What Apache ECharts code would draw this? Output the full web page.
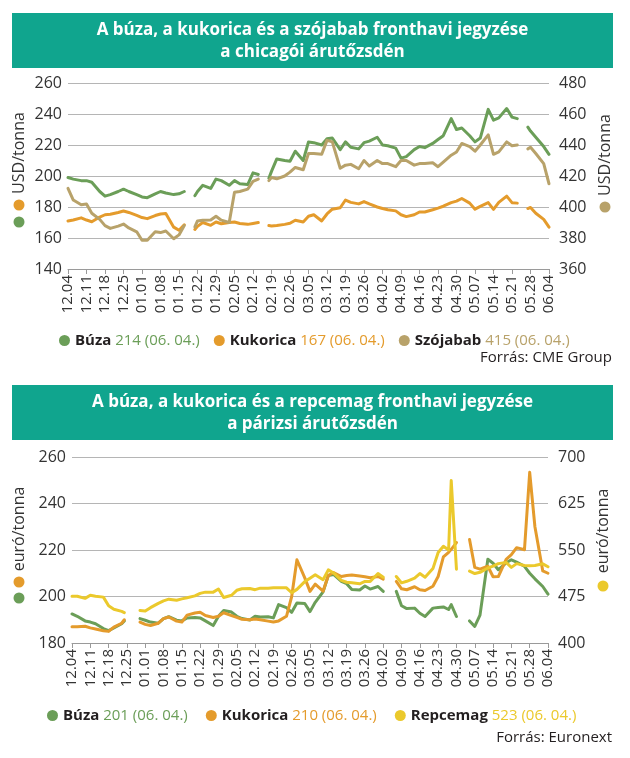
<!DOCTYPE html>
<html><head><meta charset="utf-8">
<script src="https://cdn.jsdelivr.net/npm/echarts@6/dist/echarts.min.js"></script>
<style>html,body{margin:0;padding:0;background:#fff}#c{width:630px;height:758px}</style>
</head><body><div id="c"></div>
<script>
// ---------- data ----------
const TICK_LABELS = ['12.04','12.11','12.18','12.25','01.01','01.08','01.15','01.22','01.29','02.05','02.12','02.19','02.26','03.05','03.12','03.19','03.26','04.02','04.09','04.16','04.23','04.30','05.07','05.14','05.21','05.28','06.04'];

// day offsets from 2024-12-04 (CME chart)
const DAYS_US = [0,2,5,7,9,12,14,16,19,21,23,26,28,30,33,35,37,40,42,44,47,48,49,51,54,56,58,61,63,65,68,70,72,75,76,77,79,82,84,86,89,91,93,96,98,100,103,105,107,110,112,114,117,119,121,124,126,128,131,133,135,138,140,142,145,147,149,152,154,156,159,161,163,166,168,170,173,174,175,177,180,182];
const BUZA_US = [199,198,197,197,196,190,187,188,190,191.5,190,188,186.5,186,188.5,190,189,188,188.5,190,null,187.3,190,194,192,198,197,194,197,195,194.5,202,201,null,198.6,203,211,210,209.5,216,210,222,221.5,220,224,224.5,217,222,218.5,217.5,221.5,222.5,225,220,219.5,218,211.5,212.5,217,219,218.3,221,223.5,226,237,230,231,226,222,224.5,243,236,237.5,243.5,238,237,null,231.5,229,225,219,214];
const KUKORICA_US = [171,171.6,173,171.6,170.5,173.5,175,175.3,176.5,177.4,176.5,174.6,173.2,172.5,174.5,175.5,175.8,167,165,168.5,null,165.5,167.5,170,168.2,170.3,169.2,170,170.3,169.4,168.8,169.4,170,null,168,167.8,168,168.8,169.5,171.5,170.3,174,175,171,175.5,178.6,179.5,184.5,183,182,183.5,182,180,179,178.2,177.5,175,173.8,175,176.8,176.8,178.2,179.3,180.5,182.8,183.8,185.5,182.5,178.6,180.4,182.8,178.5,183,187,182.8,182.5,null,179,179.7,176,172,167];
const SZOJA_US = [412,404.5,401.5,402,396,392,388,386.2,387.7,389,386.5,384,378.5,378.5,384,383.5,384.5,379.5,382,388,null,387.2,391,391.5,391.6,394,391.5,390,409.5,410,411.5,416.5,418,null,417,419,418.2,420,422.5,425.5,424,434.5,434.5,434,443,442,425,427,427.5,424.7,430,426.5,430,428,428,426,430,430,427,428,428,428.5,426,429,433.4,435.5,441,439,436,440,446.5,434,435.6,442,439.5,440,null,437.5,438.5,434.5,428,415];

// day offsets from 2024-12-04 (Euronext chart)
const DAYS_EU = [0,2,5,7,9,12,14,16,19,20,23,26,28,30,33,35,37,40,42,44,47,49,51,54,56,58,61,63,65,68,70,72,75,77,79,82,84,86,89,91,93,96,98,100,103,105,107,110,112,114,117,119,121,124,126,128,131,133,135,138,140,142,144,145,147,149,152,154,156,159,161,163,166,168,170,173,175,177,180,182];
const BUZA_EU = [192.5,191.5,189.5,189,188.3,186.2,185.3,186.5,188.3,189.5,null,190.5,189.8,189,188.5,190.5,191.3,189.8,189.5,190.8,191,190.8,189.5,187.5,191.5,194,193.3,191.5,190.5,189.9,191.5,191.2,191.3,190.8,196.5,195.2,193.2,197.2,197,193.5,197.5,202,209,209.5,206.5,205.5,203,202.8,204.5,203.2,204.3,202.2,null,202.2,196,194.8,195,192.8,191.4,195,195.3,195.5,194.4,196.5,191.4,null,189.5,187.1,192,216,214.3,211.5,214.5,215.8,214.8,213,210,207.6,204.3,201];
const KUKORICA_EU = [187,187,187.2,186.5,186,185.3,185,186.8,188.5,190,null,189,188,187.5,188.5,190.5,191.2,189.4,189,192,192.9,193.2,191.8,191,191.5,193,191.8,191,190.2,190,190.3,190,189.4,189,189.5,191.5,200,215.8,208,202.2,205.3,202.3,209,210.3,208.6,209,209.2,208.8,208.5,208.1,208.6,207.5,null,206.5,203.3,202.9,204.2,202.9,202.6,204.4,208.6,217,219,220.3,223.2,null,224.5,212.5,211.8,213,208.5,208.6,216,218,221,220.1,253.4,230,211,210];
const REPCE_EU = [475.5,475.5,472,477,475.5,474,460,454.5,451,449,null,452.5,451.5,457,464,468,470.7,469,471.2,473,476,480,482,482,487,473.5,477,485,487.5,487.8,486,488.5,488.5,489,489,489,481,486.5,499,504.6,510,502,518,513,501,498,497,495.5,499.2,499.2,512,506,null,507.3,497,499.5,504.5,512,506,520,546,556,550,662,519,null,516,512,514,521,524,528,530,522,528,525,524.5,525,527.7,523];

const LEGEND_US_NAMES = ['Búza','Kukorica','Szójabab'];
const LEGEND_US_VALUES = ['214 (06. 04.)','167 (06. 04.)','415 (06. 04.)'];
const LEGEND_EU_NAMES = ['Búza','Kukorica','Repcemag'];
const LEGEND_EU_VALUES = ['201 (06. 04.)','210 (06. 04.)','523 (06. 04.)'];

// ---------- styles ----------
const C_GREEN = '#6b9e58', C_ORANGE = '#e49b2c', C_TAN = '#b8a26a', C_YELLOW = '#ebc92c';
const TEAL = '#10a58e';
const FONT = '"Open Sans", "Noto Sans", sans-serif';
const TXT = '#333333';

const pairs = (days, vals) => days.map((d, i) => [d, vals[i] === null ? '-' : vals[i]]);

const chart = echarts.init(document.getElementById('c'), null, {renderer: 'canvas'});

function xAxisCfg(gridIndex) {
  return {
    type: 'value', gridIndex, min: 0, max: 182, interval: 7,
    axisLine: {show: true, onZero: false, lineStyle: {color: '#9a9a9a', width: 1}},
    axisTick: {show: true, length: 5, lineStyle: {color: '#9a9a9a'}},
    splitLine: {show: false},
    axisLabel: {rotate: 90, fontSize: 15, color: TXT, fontFamily: FONT, margin: 6,
      formatter: v => TICK_LABELS[Math.round(v / 7)] || ''}
  };
}
function yAxisCfg(gridIndex, min, max, interval, pos, split) {
  return {
    type: 'value', gridIndex, min, max, interval, position: pos,
    axisLine: {show: false}, axisTick: {show: false},
    splitLine: {show: split, lineStyle: {color: '#b5b5b5', width: 1}},
    axisLabel: {fontSize: 16, color: TXT, fontFamily: FONT, margin: pos === 'left' ? 6 : 10}
  };
}
function lineSeries(name, xi, yi, data, color) {
  return {
    name, type: 'line', xAxisIndex: xi, yAxisIndex: yi, data, color,
    showSymbol: false, symbol: 'none', connectNulls: false, smooth: false,
    lineStyle: {width: 3, color, cap: 'round', join: 'round'}, animation: false
  };
}
function legendCfg(names, values, ids, keys, left, top, gap) {
  const map = {};
  ids.forEach((id, i) => map[id] = {label: names[i], val: values[i], key: keys[i]});
  return {
    data: ids, left, top, orient: 'horizontal', itemGap: gap,
    icon: 'circle', itemWidth: 11, itemHeight: 11, selectedMode: false,
    formatter: id => `{n|${map[id].label}} {${map[id].key}|${map[id].val}}`,
    textStyle: {fontFamily: FONT, fontSize: 15, rich: {
      n: {fontWeight: 'bold', color: '#231f20', fontSize: 15, fontFamily: FONT},
      g: {color: C_GREEN, fontSize: 15, fontFamily: FONT},
      o: {color: C_ORANGE, fontSize: 15, fontFamily: FONT},
      t: {color: C_TAN, fontSize: 15, fontFamily: FONT},
      y: {color: C_YELLOW, fontSize: 15, fontFamily: FONT}
    }}
  };
}
function titleBar(y, text) {
  return [
    {type: 'rect', shape: {x: 12, y, width: 601, height: 55}, style: {fill: TEAL}, silent: true},
    {type: 'text', x: 312.5, y: y + 28, silent: true, style: {text, fill: '#ffffff',
      font: 'bold 17px ' + FONT, align: 'center', textAlign: 'center',
      verticalAlign: 'middle', textVerticalAlign: 'middle', lineHeight: 22}}
  ];
}
function vText(x, y, text) {
  return {type: 'text', x, y, rotation: Math.PI / 2, silent: true,
    style: {text, fill: TXT, font: '16px ' + FONT, align: 'center', textAlign: 'center',
      verticalAlign: 'middle', textVerticalAlign: 'middle'}};
}
function dot(cx, cy, fill) {
  return {type: 'circle', shape: {cx, cy, r: 5.5}, style: {fill}, silent: true};
}
function note(y, text) {
  return {type: 'text', x: 612, y, silent: true, style: {text, fill: '#231f20', font: '15px ' + FONT,
    align: 'right', textAlign: 'right', verticalAlign: 'middle', textVerticalAlign: 'middle'}};
}

const option = {
  animation: false,
  backgroundColor: '#ffffff',
  grid: [
    {left: 68, top: 83, width: 481, height: 186},
    {left: 72, top: 457, width: 476, height: 186}
  ],
  xAxis: [xAxisCfg(0), xAxisCfg(1)],
  yAxis: [
    yAxisCfg(0, 140, 260, 20, 'left', true),
    yAxisCfg(0, 360, 480, 20, 'right', false),
    yAxisCfg(1, 180, 260, 20, 'left', true),
    yAxisCfg(1, 400, 700, 75, 'right', false)
  ],
  legend: [
    legendCfg(LEGEND_US_NAMES, LEGEND_US_VALUES, ['us_buza','us_kuk','us_szoja'], ['g','o','t'], 54, 328, 14),
    legendCfg(LEGEND_EU_NAMES, LEGEND_EU_VALUES, ['eu_buza','eu_kuk','eu_repce'], ['g','o','y'], 42, 703, 18)
  ],
  series: [
    lineSeries('us_buza', 0, 0, pairs(DAYS_US, BUZA_US), C_GREEN),
    lineSeries('us_kuk', 0, 0, pairs(DAYS_US, KUKORICA_US), C_ORANGE),
    lineSeries('us_szoja', 0, 1, pairs(DAYS_US, SZOJA_US), C_TAN),
    lineSeries('eu_buza', 1, 2, pairs(DAYS_EU, BUZA_EU), C_GREEN),
    lineSeries('eu_kuk', 1, 2, pairs(DAYS_EU, KUKORICA_EU), C_ORANGE),
    lineSeries('eu_repce', 1, 3, pairs(DAYS_EU, REPCE_EU), C_YELLOW)
  ],
  graphic: [
    ...titleBar(13, 'A búza, a kukorica és a szójabab fronthavi jegyzése\na chicagói árutőzsdén'),
    ...titleBar(385, 'A búza, a kukorica és a repcemag fronthavi jegyzése\na párizsi árutőzsdén'),
    vText(19, 153, 'USD/tonna'), dot(19, 205, C_ORANGE), dot(19, 222, C_GREEN),
    vText(605, 155, 'USD/tonna'), dot(605, 207, C_TAN),
    vText(19, 529, 'euró/tonna'), dot(19, 582, C_ORANGE), dot(19, 598, C_GREEN),
    vText(603, 531, 'euró/tonna'), dot(603, 586, C_YELLOW),
    note(358, 'Forrás: CME Group'),
    note(738, 'Forrás: Euronext')
  ]
};
chart.setOption(option);
</script>
</body></html>
